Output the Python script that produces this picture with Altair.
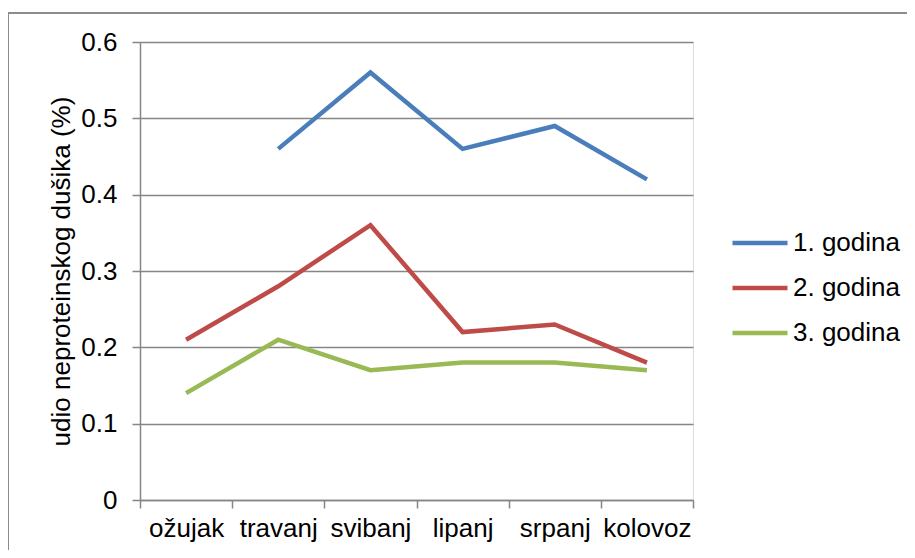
import altair as alt
import pandas as pd

months = ["ožujak", "travanj", "svibanj", "lipanj", "srpanj", "kolovoz"]
series_names = ["1. godina", "2. godina", "3. godina"]
godina1 = [None, 0.46, 0.56, 0.46, 0.49, 0.42]
godina2 = [0.21, 0.28, 0.36, 0.22, 0.23, 0.18]
godina3 = [0.14, 0.21, 0.17, 0.18, 0.18, 0.17]
colors = ["#4A7EBB", "#BE4B48", "#98B954"]
y_ticks = [0, 0.1, 0.2, 0.3, 0.4, 0.5, 0.6]

rows = []
for name, vals in zip(series_names, [godina1, godina2, godina3]):
    for m, v in zip(months, vals):
        if v is not None:
            rows.append({"mjesec": m, "serija": name, "vrijednost": v})
df = pd.DataFrame(rows)

FONT = "Liberation Sans"
GRAY = "#868686"

lines = alt.Chart(df).mark_line(strokeWidth=4.5, strokeCap="butt", strokeJoin="miter").encode(
    x=alt.X("mjesec:N", sort=months, title=None,
            scale=alt.Scale(paddingInner=0, paddingOuter=0),
            axis=alt.Axis(tickBand="extent", labelAngle=0, labelFontSize=26, labelFont=FONT,
                          labelColor="black", labelPadding=7, tickSize=8, tickColor=GRAY,
                          domainColor=GRAY, domainWidth=1.5, tickWidth=1.5, grid=False)),
    y=alt.Y("vrijednost:Q", title="udio neproteinskog dušika (%)",
            scale=alt.Scale(domain=[0, 0.6], nice=False, zero=True),
            axis=alt.Axis(values=y_ticks,
                          labelExpr="datum.value == 0 ? '0' : format(datum.value, '.1f')",
                          labelFontSize=26, labelFont=FONT, labelColor="black",
                          labelPadding=15, tickSize=8, tickColor=GRAY, tickWidth=1.5,
                          domainColor=GRAY, domainWidth=1.5,
                          grid=True, gridColor=GRAY, gridWidth=1.5,
                          titleFontSize=26, titleFont=FONT, titleFontWeight="normal",
                          titleColor="black", titlePadding=6)),
    color=alt.Color("serija:N", sort=series_names,
                    scale=alt.Scale(domain=series_names, range=colors),
                    legend=alt.Legend(title=None, orient="none", legendX=590, legendY=186,
                                      symbolType="stroke", symbolSize=3025, symbolStrokeWidth=4.5,
                                      labelFontSize=26, labelFont=FONT, labelColor="black",
                                      clipHeight=30, rowPadding=15, labelOffset=3, labelLimit=300)),
)

frame = alt.Chart(pd.DataFrame({"k": [0]})).mark_rule(color="#8c8c8c", strokeWidth=2, clip=False).encode(
    x=alt.value(-132), x2=alt.value(800), y=alt.value(-29), y2=alt.value(-29)
)
frame_left = alt.Chart(pd.DataFrame({"k": [0]})).mark_rule(color="#8c8c8c", strokeWidth=2, clip=False).encode(
    x=alt.value(-132), x2=alt.value(-132), y=alt.value(-29), y2=alt.value(560)
)

chart = alt.layer(frame, frame_left, lines).properties(
    width=553, height=458,
    autosize=alt.AutoSizeParams(type="none"),
    padding={"left": 132, "top": 34, "right": 214, "bottom": 50},
).configure_view(stroke=None).configure(background="white")

chart.save("out.html", embed_options={"renderer": "svg", "actions": False})
